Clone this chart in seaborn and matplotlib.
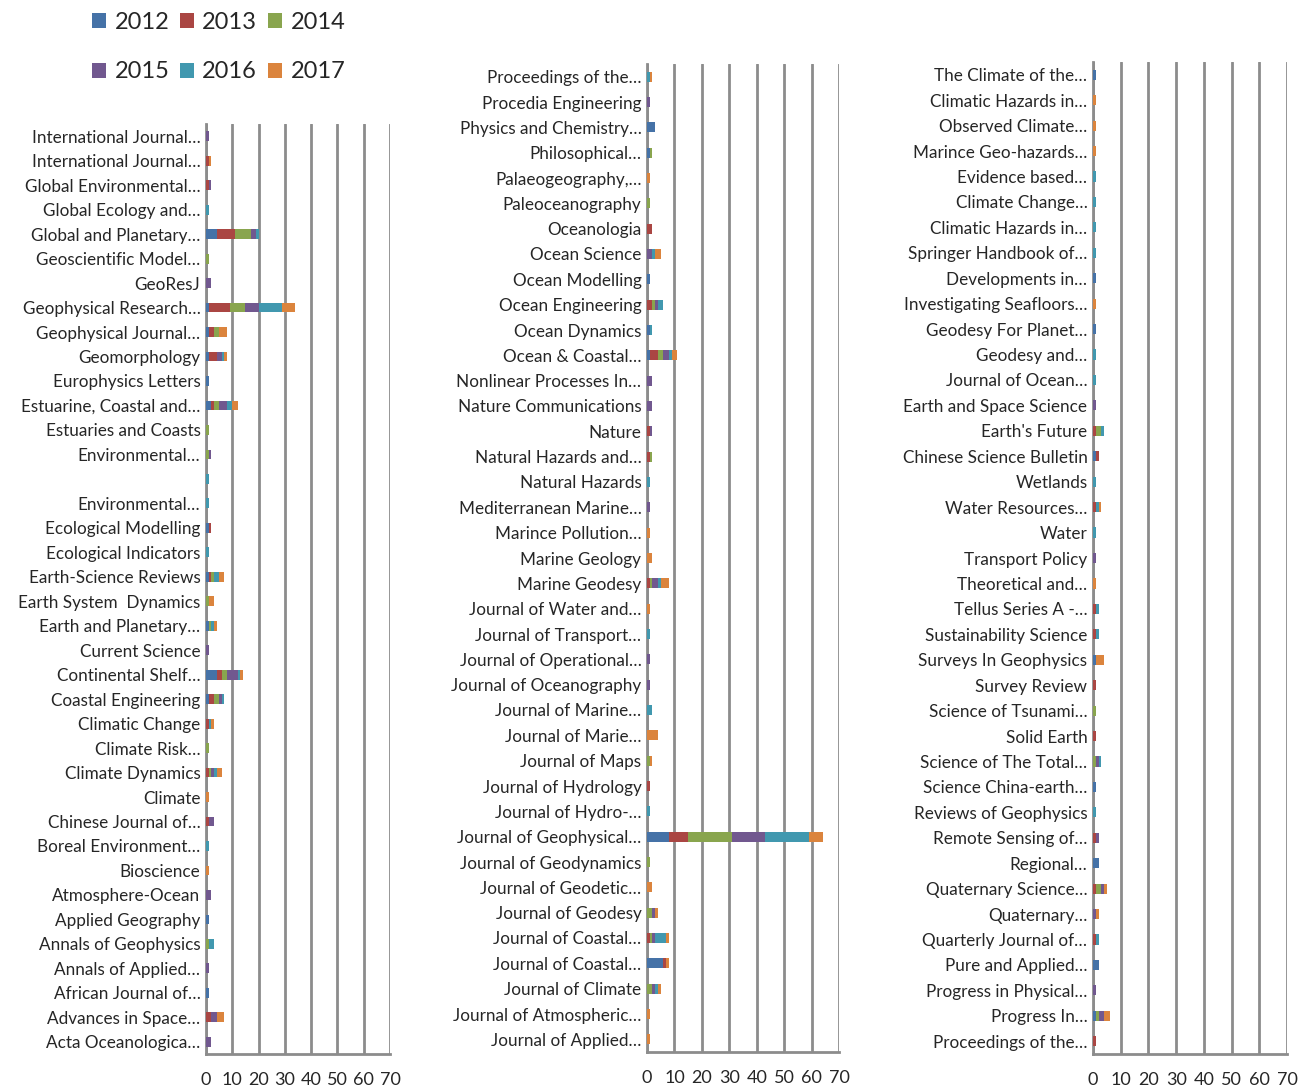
"""
Journal publications per year (2012-2017), three stacked horizontal bar panels.
"""
import numpy as np
import pandas as pd
import matplotlib
matplotlib.use("Agg")
import matplotlib.pyplot as plt
from matplotlib.patches import Patch
import seaborn as sns

years = ["2012", "2013", "2014", "2015", "2016", "2017"]
colors = ["#4572A7", "#AA4643", "#89A54E", "#71588F", "#4198AF", "#DB843D"]

# left panel
left_names = [
    "International Journal…", "International Journal…", "Global Environmental…",
    "Global Ecology and…", "Global and Planetary…", "Geoscientific Model…", "GeoResJ",
    "Geophysical Research…", "Geophysical Journal…", "Geomorphology", "Europhysics Letters",
    "Estuarine, Coastal and…", "Estuaries and Coasts", "Environmental…", "",
    "Environmental…", "Ecological Modelling", "Ecological Indicators", "Earth-Science Reviews",
    "Earth System  Dynamics", "Earth and Planetary…", "Current Science", "Continental Shelf…",
    "Coastal Engineering", "Climatic Change", "Climate Risk…", "Climate Dynamics", "Climate",
    "Chinese Journal of…", "Boreal Environment…", "Bioscience", "Atmosphere-Ocean",
    "Applied Geography", "Annals of Geophysics", "Annals of Applied…", "African Journal of…",
    "Advances in Space…", "Acta Oceanologica…",
]
left_2012 = [0, 0, 0, 0, 4, 0, 0, 1, 1, 1, 1, 2, 0, 0, 0, 0, 1, 0, 1, 0, 1, 0, 4, 1, 0, 0, 0, 0, 0, 0, 0, 0, 1, 0, 0, 1, 0, 0]
left_2013 = [0, 1, 1, 0, 7, 0, 0, 8, 2, 3, 0, 1, 0, 0, 0, 0, 1, 0, 1, 0, 0, 0, 2, 2, 1, 0, 1, 0, 1, 0, 0, 0, 0, 0, 0, 0, 2, 0]
left_2014 = [0, 0, 0, 0, 6, 1, 0, 6, 2, 0, 0, 2, 1, 1, 0, 0, 0, 0, 1, 1, 1, 0, 2, 2, 0, 1, 1, 0, 0, 0, 0, 0, 0, 1, 0, 0, 0, 0]
left_2015 = [1, 0, 1, 0, 2, 0, 2, 5, 0, 2, 0, 3, 0, 1, 0, 0, 0, 0, 0, 0, 0, 1, 4, 1, 0, 0, 1, 0, 2, 0, 0, 2, 0, 0, 1, 0, 2, 2]
left_2016 = [0, 0, 0, 1, 1, 0, 0, 9, 0, 1, 0, 2, 0, 0, 1, 1, 0, 1, 2, 0, 1, 0, 1, 1, 1, 0, 1, 0, 0, 1, 0, 0, 0, 2, 0, 0, 0, 0]
left_2017 = [0, 1, 0, 0, 0, 0, 0, 5, 3, 1, 0, 2, 0, 0, 0, 0, 0, 0, 2, 2, 1, 0, 1, 0, 1, 0, 2, 1, 0, 0, 1, 0, 0, 0, 0, 0, 3, 0]

# middle panel
mid_names = [
    "Proceedings of the…", "Procedia Engineering", "Physics and Chemistry…", "Philosophical…",
    "Palaeogeography,…", "Paleoceanography", "Oceanologia", "Ocean Science", "Ocean Modelling",
    "Ocean Engineering", "Ocean Dynamics", "Ocean & Coastal…", "Nonlinear Processes In…",
    "Nature Communications", "Nature", "Natural Hazards and…", "Natural Hazards",
    "Mediterranean Marine…", "Marince Pollution…", "Marine Geology", "Marine Geodesy",
    "Journal of Water and…", "Journal of Transport…", "Journal of Operational…",
    "Journal of Oceanography", "Journal of Marine…", "Journal of Marie…", "Journal of Maps",
    "Journal of Hydrology", "Journal of Hydro-…", "Journal of Geophysical…",
    "Journal of Geodynamics", "Journal of Geodetic…", "Journal of Geodesy",
    "Journal of Coastal…", "Journal of Coastal…", "Journal of Climate",
    "Journal of Atmospheric…", "Journal of Applied…",
]
mid_2012 = [0, 0, 3, 1, 0, 0, 0, 0, 1, 0, 1, 1, 0, 0, 0, 0, 0, 0, 0, 0, 0, 0, 0, 0, 0, 0, 0, 0, 0, 0, 8, 0, 0, 0, 0, 6, 0, 0, 0]
mid_2013 = [0, 0, 0, 0, 0, 0, 2, 0, 0, 2, 0, 3, 0, 0, 1, 1, 0, 0, 0, 0, 1, 0, 0, 0, 0, 0, 0, 0, 1, 0, 7, 0, 0, 0, 1, 1, 0, 0, 0]
mid_2014 = [0, 0, 0, 1, 0, 1, 0, 0, 0, 1, 0, 2, 0, 0, 0, 1, 0, 0, 0, 0, 1, 0, 0, 0, 0, 0, 0, 1, 0, 0, 16, 1, 0, 2, 1, 0, 2, 0, 0]
mid_2015 = [0, 1, 0, 0, 0, 0, 0, 2, 0, 1, 0, 2, 2, 2, 1, 0, 0, 1, 0, 0, 2, 0, 0, 1, 1, 0, 0, 0, 0, 0, 12, 0, 0, 1, 1, 0, 1, 0, 0]
mid_2016 = [1, 0, 0, 0, 0, 0, 0, 1, 0, 2, 1, 1, 0, 0, 0, 0, 1, 0, 0, 0, 1, 0, 1, 0, 0, 2, 0, 0, 0, 1, 16, 0, 0, 0, 4, 0, 1, 0, 0]
mid_2017 = [1, 0, 0, 0, 1, 0, 0, 2, 0, 0, 0, 2, 0, 0, 0, 0, 0, 0, 1, 2, 3, 1, 0, 0, 0, 0, 4, 1, 0, 0, 5, 0, 2, 1, 1, 1, 1, 1, 1]

# right panel
right_names = [
    "The Climate of the…", "Climatic Hazards in…", "Observed Climate…", "Marince Geo-hazards…",
    "Evidence based…", "Climate Change…", "Climatic Hazards in…", "Springer Handbook of…",
    "Developments in…", "Investigating Seafloors…", "Geodesy For Planet…", "Geodesy and…",
    "Journal of Ocean…", "Earth and Space Science", "Earth's Future", "Chinese Science Bulletin",
    "Wetlands", "Water Resources…", "Water", "Transport Policy", "Theoretical and…",
    "Tellus Series A -…", "Sustainability Science", "Surveys In Geophysics", "Survey Review",
    "Science of Tsunami…", "Solid Earth", "Science of The Total…", "Science China-earth…",
    "Reviews of Geophysics", "Remote Sensing of…", "Regional…", "Quaternary Science…",
    "Quaternary…", "Quarterly Journal of…", "Pure and Applied…", "Progress in Physical…",
    "Progress In…", "Proceedings of the…",
]
right_2012 = [1, 0, 0, 0, 0, 0, 0, 0, 1, 0, 1, 0, 0, 0, 0, 1, 0, 0, 0, 0, 0, 0, 0, 1, 0, 0, 0, 0, 1, 0, 0, 2, 0, 0, 0, 2, 0, 1, 0]
right_2013 = [0, 0, 0, 0, 0, 0, 0, 0, 0, 0, 0, 0, 0, 0, 1, 1, 0, 1, 0, 0, 0, 1, 1, 0, 1, 0, 1, 0, 0, 0, 1, 0, 1, 0, 1, 0, 0, 0, 1]
right_2014 = [0, 0, 0, 0, 0, 0, 0, 0, 0, 0, 0, 0, 0, 0, 2, 0, 0, 0, 0, 0, 0, 0, 0, 0, 0, 1, 0, 1, 0, 0, 0, 0, 2, 0, 0, 0, 0, 1, 0]
right_2015 = [0, 0, 0, 0, 0, 0, 0, 0, 0, 0, 0, 0, 0, 1, 0, 0, 0, 0, 0, 1, 0, 0, 0, 0, 0, 0, 0, 1, 0, 0, 1, 0, 1, 1, 0, 0, 1, 2, 0]
right_2016 = [0, 0, 0, 0, 1, 1, 1, 1, 0, 0, 0, 1, 1, 0, 1, 0, 1, 1, 1, 0, 0, 1, 1, 0, 0, 0, 0, 1, 0, 1, 0, 0, 0, 0, 1, 0, 0, 0, 0]
right_2017 = [0, 1, 1, 1, 0, 0, 0, 0, 0, 1, 0, 0, 0, 0, 0, 0, 0, 1, 0, 0, 1, 0, 0, 3, 0, 0, 0, 0, 0, 0, 0, 0, 1, 1, 0, 0, 0, 2, 0]

GRID = "#8c8c8c"

sns.set_style("white")
plt.rcParams["font.family"] = ["Lato", "DejaVu Sans"]


def stacked_panel(ax, names, series):
    """Stacked horizontal bars, drawn as overlapping cumulative bars."""
    df = pd.DataFrame(dict(zip(years, series)))
    df["key"] = [f"r{i:02d}" for i in range(len(names))]
    cum = df[years].cumsum(axis=1)
    for year, color in reversed(list(zip(years, colors))):
        sns.barplot(x=cum[year], y=df["key"], orient="h", color=color,
                    saturation=1, width=0.4, ax=ax, linewidth=0, zorder=3)
    n = len(names)
    ax.set_xlim(0, 70)
    ax.set_ylim(n - 0.5, -0.5)
    ax.set_xticks(range(0, 71, 10))
    ax.set_yticks(range(n))
    ax.set_yticklabels(names)
    ax.set_yticks(np.arange(-0.5, n), minor=True)
    ax.set_xlabel("")
    ax.set_ylabel("")
    ax.grid(axis="x", color=GRID, linewidth=2, zorder=0)
    ax.set_axisbelow(True)
    for side in ["top", "right"]:
        ax.spines[side].set_visible(False)
    for side in ["left", "bottom"]:
        ax.spines[side].set_color(GRID)
        ax.spines[side].set_linewidth(2)
        ax.spines[side].set_zorder(1)
    ax.tick_params(axis="y", which="major", length=0, pad=4, labelsize=12.3)
    ax.tick_params(axis="y", which="minor", length=5, width=1.5, color=GRID)
    ax.tick_params(axis="x", length=4, width=1.5, color=GRID, labelsize=13, pad=9)


fig = plt.figure(figsize=(13.12, 10.91), dpi=100)
W, H = 1312, 1091
ax_left = fig.add_axes([206 / W, 1 - 1054 / H, 184 / W, (1054 - 124) / H])
ax_mid = fig.add_axes([647 / W, 1 - 1052 / H, 192 / W, (1052 - 64) / H])
ax_right = fig.add_axes([1093 / W, 1 - 1054 / H, 194 / W, (1054 - 62) / H])

stacked_panel(ax_left, left_names,
              [left_2012, left_2013, left_2014, left_2015, left_2016, left_2017])
stacked_panel(ax_mid, mid_names,
              [mid_2012, mid_2013, mid_2014, mid_2015, mid_2016, mid_2017])
stacked_panel(ax_right, right_names,
              [right_2012, right_2013, right_2014, right_2015, right_2016, right_2017])

# legend fills column-wise, so reorder to read 2012 2013 2014 / 2015 2016 2017
order = [0, 3, 1, 4, 2, 5]
handles = [Patch(facecolor=colors[i], edgecolor="none") for i in order]
labels = [years[i] for i in order]
fig.legend(handles, labels, ncol=3, loc="upper left", bbox_to_anchor=(92 / W, 1 - 12 / H),
           frameon=False, fontsize=17, handlelength=0.6, handleheight=0.6,
           handletextpad=0.35, columnspacing=0.45, labelspacing=1.2,
           borderpad=0, borderaxespad=0)

fig.savefig("out.png", dpi=100)
